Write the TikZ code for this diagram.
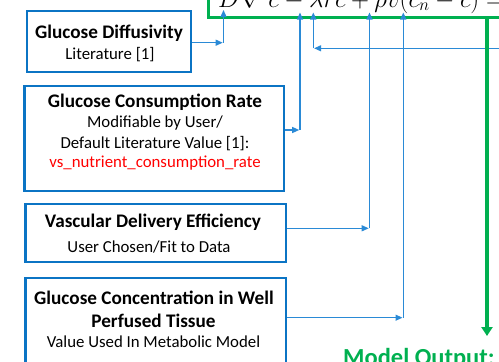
\documentclass[tikz,border=0pt]{standalone}
\usepackage{fontspec}
\setmainfont{Carlito}
\usetikzlibrary{arrows.meta}
\definecolor{boxblue}{HTML}{0B74C4}
\definecolor{arrblue}{HTML}{2A8AD6}
\definecolor{outgreen}{HTML}{00B050}
\definecolor{refred}{HTML}{FF0000}

\begin{document}
\begin{tikzpicture}[x=1pt,y=-1pt,
  parambox/.style={draw=boxblue, line width=2.6pt, fill=white, inner sep=0pt},
  ttl/.style={font=\fontsize{19.2}{23}\selectfont\bfseries, text=black, anchor=base, inner sep=0pt},
  sub/.style={font=\fontsize{16.8}{20}\selectfont, text=black, anchor=base, inner sep=0pt},
  feed/.style={draw=arrblue, line width=1.2pt, -{Triangle[length=7pt,width=6pt]}},
  outarr/.style={draw=outgreen, line width=3.5pt, -{Triangle[length=9pt,width=11pt]}},
]
\useasboundingbox (0,0) rectangle (499,362);
\clip (0,0) rectangle (499,362);

% equation frame and equation
\node[draw=outgreen, line width=3pt, minimum width=360pt, minimum height=80pt,
      anchor=south west, inner sep=0pt] (eqbox) at (207,18.5) {};
\node[anchor=base west, inner sep=0pt, font=\fontsize{24}{28}\selectfont] (eq) at (218,7)
  {$D\nabla^2 c - \lambda r c + \rho v (c_n - c) = 0$};

% parameter boxes
\node[parambox, minimum width=164pt, minimum height=61pt] (diff) at (109,41.5) {};
\node[parambox, minimum width=259.5pt, minimum height=105pt] (cons) at (154.25,138.5) {};
\node[parambox, minimum width=260.5pt, minimum height=58pt] (vasc) at (155.75,233) {};
\node[parambox, minimum width=260.5pt, minimum height=110pt] (conc) at (155.75,333) {};

% box texts
\node[ttl] (diff-t) at (109,38) {Glucose Diffusivity};
\node[sub] (diff-s) at (110,59) {Literature [1]};
\node[ttl] (cons-t) at (155,107) {Glucose Consumption Rate};
\node[sub] (cons-s1) at (155,127) {Modifiable by User/};
\node[sub] (cons-s2) at (155,148) {Default Literature Value [1]:};
\node[sub, text=refred] (cons-s3) at (155,167) {vs\_nutrient\_consumption\_rate};
\node[ttl] (vasc-t) at (153,227) {Vascular Delivery Efficiency};
\node[sub] (vasc-s) at (149,252) {User Chosen/Fit to Data};
\node[ttl] (conc-t1) at (154,304) {Glucose Concentration in Well};
\node[ttl] (conc-t2) at (153.5,327) {Perfused Tissue};
\node[sub] (conc-s) at (153.5,347) {Value Used In Metabolic Model};

% model output
\node[anchor=base west, inner sep=0pt, font=\fontsize{24.5}{28}\selectfont\bfseries,
      text=outgreen] (out) at (343,365) {Model Output:};

% corners and tips of the feed connectors
\coordinate (k1) at (223.5,42.7);  \coordinate (e1) at (223.5,10);
\coordinate (k2) at (300,130);     \coordinate (e2) at (300,12.5);
\coordinate (rin) at (505,48.3);
\coordinate (k3) at (313.3,48.3);  \coordinate (e3) at (313.3,12.5);
\coordinate (k4) at (369.5,228.3); \coordinate (e4) at (369.5,12.5);
\coordinate (k5) at (403.3,317.7); \coordinate (e5) at (403.3,12.5);
\coordinate (e6) at (487,336);

% feeds into the equation
\draw[feed, shorten >=0.8pt] (diff.east |- k1) -- (k1);
\draw[feed] (k1) -- (e1);
\draw[feed, shorten >=0.8pt] (cons.east |- k2) -- (k2);
\draw[feed] (k2) -- (e2);
\draw[feed, shorten >=0.8pt] (rin) -- (k3);
\draw[feed] (k3) -- (e3);
\draw[feed, shorten >=0.8pt] (vasc.east |- k4) -- (k4);
\draw[feed] (k4) -- (e4);
\draw[feed, shorten >=0.8pt] (conc.east |- k5) -- (k5);
\draw[feed] (k5) -- (e5);

% output arrow
\draw[outarr] (eqbox.south -| e6) -- (e6);
\end{tikzpicture}
\end{document}
